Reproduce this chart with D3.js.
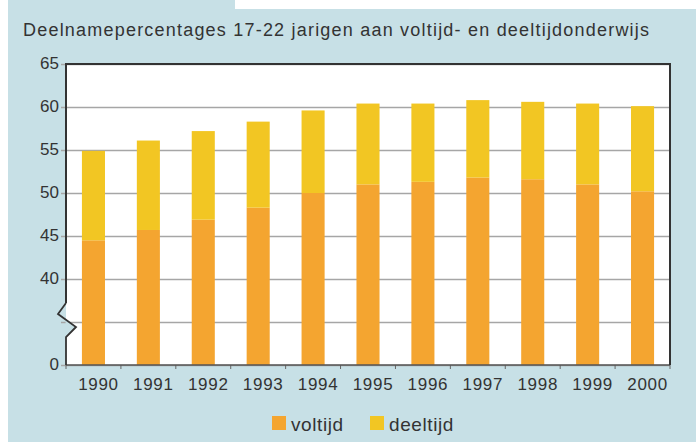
<!DOCTYPE html>
<html>
<head>
<meta charset="utf-8">
<script src="https://cdn.jsdelivr.net/npm/d3@7"></script>
<style>
  body { margin: 0; background: #fff; }
  text { font-family: "Liberation Sans", Arial, sans-serif; fill: #333; }
</style>
</head>
<body>
<div id="chart"></div>
<script>
const years = ["1990","1991","1992","1993","1994","1995","1996","1997","1998","1999","2000"]
const voltijd = [44.5, 45.7, 46.9, 48.3, 50.0, 51.0, 51.3, 51.8, 51.6, 51.0, 50.2]
const deeltijd = [10.4, 10.4, 10.3, 10.0, 9.6, 9.4, 9.1, 9.0, 9.0, 9.4, 9.9]
const yTicks = [30, 35, 40, 45, 50, 55, 60, 65]
const yTickLabels = ["0", "", "40", "45", "50", "55", "60", "65"]
const seriesNames = ["voltijd", "deeltijd"]
const title = "Deelnamepercentages 17-22 jarigen aan voltijd- en deeltijdonderwijs"

const width = 696, height = 442
const plot = {left: 66, right: 670, top: 64, bottom: 365}
const colors = {voltijd: "#f4a530", deeltijd: "#f2c623"}
const blue = "#c7e0e6"

const svg = d3.select("#chart").append("svg")
    .attr("width", width).attr("height", height)
    .attr("viewBox", [0, 0, width, height])

// background panel (white notch top right)
svg.append("rect").attr("x", 8).attr("y", 0).attr("width", 227).attr("height", height).attr("fill", blue)
svg.append("rect").attr("x", 235).attr("y", 9).attr("width", width - 235).attr("height", height - 9).attr("fill", blue)

svg.append("text")
    .attr("x", 23).attr("y", 36)
    .attr("font-size", 18)
    .attr("textLength", 626).attr("lengthAdjust", "spacing")
    .text(title)

// scales
const x = d3.scaleBand().domain(years)
    .range([plot.left, plot.right])
    .paddingInner(0.58).paddingOuter(0.29)
const y = d3.scaleLinear().domain([30, 65]).range([plot.bottom, plot.top])

// plot area
svg.append("rect")
    .attr("x", plot.left).attr("y", plot.top)
    .attr("width", plot.right - plot.left).attr("height", plot.bottom - plot.top)
    .attr("fill", "white")

//y axis with gridlines
const yAxis = svg.append("g")
    .attr("transform", `translate(${plot.left},0)`)
    .call(d3.axisLeft(y)
        .tickValues(yTicks)
        .tickSize(-(plot.right - plot.left))
        .tickPadding(7)
        .tickFormat((d, i) => yTickLabels[i]))
yAxis.select(".domain").remove()
yAxis.selectAll(".tick line")
    .attr("x1", -5)
    .attr("stroke", "#a6a6a6").attr("stroke-width", 1.4)
yAxis.selectAll(".tick text")
    .attr("font-size", 17).attr("fill", "#333").attr("dy", "0.26em")
    .attr("font-family", "Liberation Sans, Arial, sans-serif")

// stacked bars
const stack = years.map((yr, i) => ({year: yr, voltijd: voltijd[i], deeltijd: deeltijd[i]}))
const stacked = d3.stack().keys(seriesNames)(stack)
stacked.forEach(layer => {
    svg.append("g").attr("fill", colors[layer.key])
        .selectAll("rect")
        .data(layer)
        .join("rect")
        .attr("x", d => x(d.data.year))
        .attr("width", x.bandwidth())
        .attr("y", d => y(d[1]))
        .attr("height", d => y(Math.max(d[0], 30)) - y(d[1]))
})

// x axis
const xAxis = svg.append("g")
    .attr("transform", `translate(0,${plot.bottom})`)
    .call(d3.axisBottom(x).tickSize(0).tickPadding(13))
xAxis.select(".domain").remove()
xAxis.selectAll(".tick text")
    .attr("font-size", 17).attr("fill", "#333").attr("dx", 5)
    .attr("letter-spacing", 0.7)
    .attr("font-family", "Liberation Sans, Arial, sans-serif")

// tick marks at band boundaries
const boundaries = d3.range(years.length + 1).map(i => plot.left + i * x.step())
svg.append("g").selectAll("line")
    .data(boundaries)
    .join("line")
    .attr("x1", d => d).attr("x2", d => d)
    .attr("y1", plot.bottom).attr("y2", plot.bottom + 4)
    .attr("stroke", "#666").attr("stroke-width", 1)

// frame: top, right, bottom, left with axis break
const frame = svg.append("g").attr("fill", "none").attr("stroke", "#333")
frame.append("path")
    .attr("stroke-width", 1.5)
    .attr("d", `M${plot.left},${plot.bottom}H${plot.right}`)
    .attr("stroke", "#555")
frame.append("path")
    .attr("stroke-width", 2)
    .attr("d", `M${plot.left},${y(35) - 19}V${plot.top}H${plot.right}V${plot.bottom}`)

// break zigzag on the y axis
const b = y(35)
svg.append("path")
    .attr("d", `M${plot.left - 1},${b - 19}L${plot.left - 8},${b - 8}L${plot.left + 10},${b + 5}L${plot.left},${b + 15}Z`)
    .attr("fill", blue).attr("stroke", "none")
svg.append("path")
    .attr("d", `M${plot.left},${b - 19}L${plot.left - 8},${b - 8}L${plot.left + 10},${b + 5}L${plot.left},${b + 15}V${plot.bottom}`)
    .attr("fill", "none").attr("stroke", "#333").attr("stroke-width", 1.8)

// legend
const legendX = [272, 370]
const legend = svg.append("g")
seriesNames.forEach((name, i) => {
    legend.append("rect")
        .attr("x", legendX[i]).attr("y", 416)
        .attr("width", 14).attr("height", 14)
        .attr("fill", colors[name])
    legend.append("text")
        .attr("x", legendX[i] + 19).attr("y", 431)
        .attr("font-size", 19).attr("letter-spacing", 0.6)
        .text(name)
})
</script>
</body>
</html>
